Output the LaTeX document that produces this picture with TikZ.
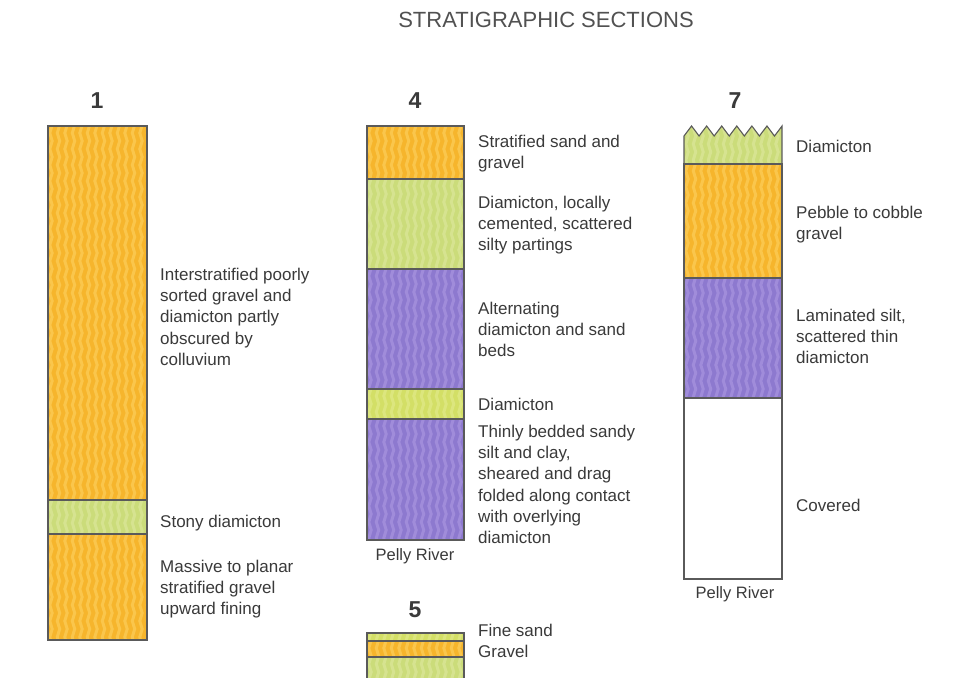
\documentclass[tikz,border=0pt]{standalone}
\usepackage{fontspec}
\setmainfont{Liberation Sans}
\usetikzlibrary{decorations.pathmorphing}
\definecolor{org}{HTML}{F6B52C}
\definecolor{orgL}{HTML}{FAC64C}
\definecolor{grn}{HTML}{CBDC7A}
\definecolor{grnL}{HTML}{D6E390}
\definecolor{ylg}{HTML}{D3DF66}
\definecolor{ylgL}{HTML}{DCE67E}
\definecolor{pur}{HTML}{8D79CF}
\definecolor{purL}{HTML}{A08CDA}
\definecolor{txt}{HTML}{3A3A3A}
\definecolor{edge}{HTML}{5A5A5A}
\newcommand\strata[6]{%
  \begin{scope}
    \clip (#1,#2) rectangle (#3,#4);
    \fill[#5] (#1,#2) rectangle (#3,#4);
    \foreach \k in {0,...,13}{
      \draw[#6, line width=3pt, decorate, decoration={snake,segment length=16pt,amplitude=1.2pt}]
        ({#1+3+7.5*\k},{#2-6}) -- ({#1+3+7.5*\k},{#4+6});
    }
  \end{scope}
  \draw[edge, line width=1.1pt] (#1,#2) rectangle (#3,#4);
}
\tikzset{
  lbl/.style={anchor=north west, inner sep=0pt, align=left, text=txt,
    font=\fontsize{17}{21.3}\selectfont},
  secnum/.style={inner sep=0pt, text=txt, font=\fontsize{23}{26}\selectfont\bfseries},
  river/.style={inner sep=0pt, text=txt, font=\fontsize{16.5}{20}\selectfont},
}
\begin{document}
\begin{tikzpicture}[x=1pt,y=-1pt]
\useasboundingbox (0,0) rectangle (973,677);
\fill[white] (0,0) rectangle (973,677);

\node[inner sep=0pt, text=edge!90!black, font=\fontsize{22}{26}\selectfont] (title) at (546,20) {STRATIGRAPHIC SECTIONS};

% Section 1
\node[secnum] (n1) at (97,101) {1};
\strata{48}{126}{147}{500}{org}{orgL}
\strata{48}{500}{147}{534}{grn}{grnL}
\strata{48}{534}{147}{640}{org}{orgL}
\node[lbl] (t1a) at (160,265.1) {\strut Interstratified poorly\\sorted gravel and\\diamicton partly\\obscured by\\colluvium};
\node[lbl] (t1b) at (160,512.1) {\strut Stony diamicton};
\node[lbl] (t1c) at (160,557.1) {\strut Massive to planar\\stratified gravel\\upward fining};

% Section 4
\node[secnum] (n4) at (415,101) {4};
\strata{367}{126}{464}{179}{org}{orgL}
\strata{367}{179}{464}{269}{grn}{grnL}
\strata{367}{269}{464}{389}{pur}{purL}
\strata{367}{389}{464}{419}{ylg}{ylgL}
\strata{367}{419}{464}{540}{pur}{purL}
\node[river] (r4) at (415,556) {Pelly River};
\node[lbl] (t4a) at (478,132.1) {\strut Stratified sand and\\gravel};
\node[lbl] (t4b) at (478,193.1) {\strut Diamicton, locally\\cemented, scattered\\silty partings};
\node[lbl] (t4c) at (478,299.1) {\strut Alternating\\diamicton and sand\\beds};
\node[lbl] (t4d) at (478,395.1) {\strut Diamicton};
\node[lbl] (t4e) at (478,422.1) {\strut Thinly bedded sandy\\silt and clay,\\sheared and drag\\folded along contact\\with overlying\\diamicton};

% Section 5
\node[secnum] (n5) at (415,610) {5};
\strata{367}{633}{464}{641}{ylg}{ylgL}
\strata{367}{641}{464}{657}{org}{orgL}
\strata{367}{657}{464}{700}{grn}{grnL}
\node[lbl] (t5a) at (478,621.1) {\strut Fine sand\\Gravel};

% Section 7
\node[secnum] (n7) at (735,101) {7};
\begin{scope}
  \clip (684,136) \foreach \k in {1,...,13}{ -- ({684+7.54*\k},{ifthenelse(mod(\k,2)==1,126,136)}) } -- (782,164) -- (684,164) -- cycle;
  \fill[grn] (684,120) rectangle (782,164);
  \foreach \k in {0,...,13}{
    \draw[grnL, line width=3pt, decorate, decoration={snake,segment length=16pt,amplitude=1.2pt}]
      ({687+7.5*\k},115) -- ({687+7.5*\k},170);
  }
\end{scope}
\draw[edge, line width=1.1pt, line join=miter] (684,164) -- (684,136) \foreach \k in {1,...,13}{ -- ({684+7.54*\k},{ifthenelse(mod(\k,2)==1,126,136)}) } -- (782,164);
\strata{684}{164}{782}{278}{org}{orgL}
\strata{684}{278}{782}{398}{pur}{purL}
\draw[edge, line width=1.1pt] (684,398) rectangle (782,579);
\node[river] (r7) at (735,594) {Pelly River};
\node[lbl] (t7a) at (796,137.1) {\strut Diamicton};
\node[lbl] (t7b) at (796,203.1) {\strut Pebble to cobble\\gravel};
\node[lbl] (t7c) at (796,306.1) {\strut Laminated silt,\\scattered thin\\diamicton};
\node[lbl] (t7d) at (796,496.1) {\strut Covered};
\end{tikzpicture}
\end{document}
